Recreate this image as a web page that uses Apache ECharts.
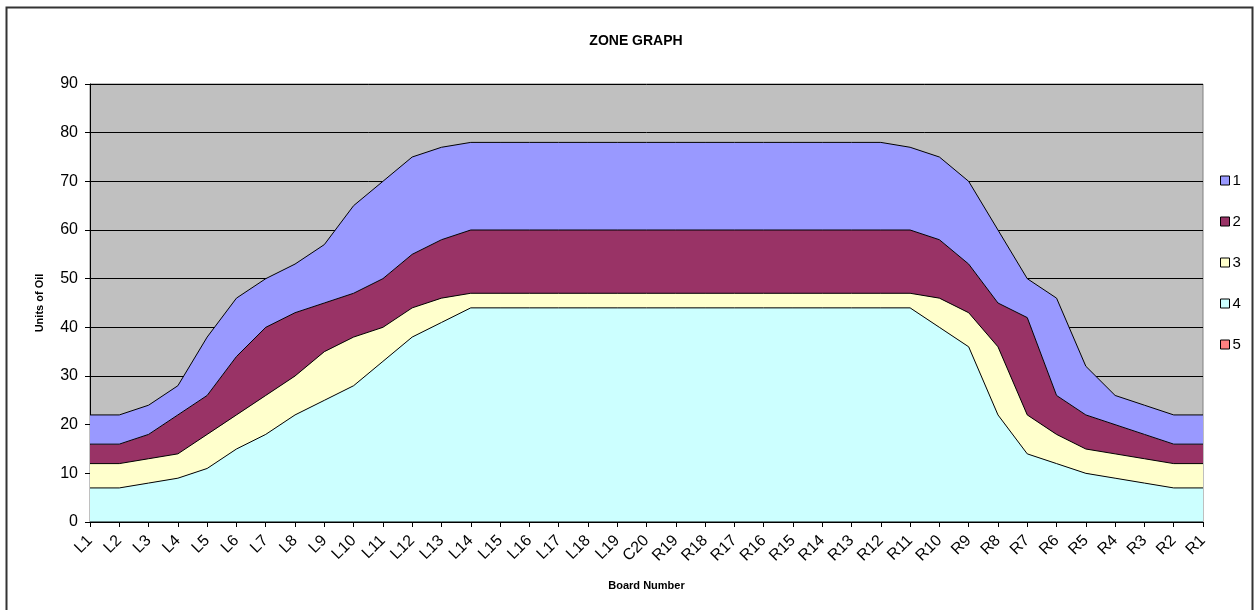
<!DOCTYPE html>
<html>
<head>
<meta charset="utf-8">
<title>Zone Graph</title>
<script src="https://cdn.jsdelivr.net/npm/echarts@6/dist/echarts.min.js"></script>
<style>
html, body { margin: 0; padding: 0; background: #fff; }
#chart { width: 1254px; height: 610px; }
</style>
</head>
<body>
<div id="chart"></div>
<script>
// board positions
var boards = ['L1','L2','L3','L4','L5','L6','L7','L8','L9','L10','L11','L12','L13','L14','L15','L16','L17','L18','L19',
	'C20','R19','R18','R17','R16','R15','R14','R13','R12','R11','R10','R9','R8','R7','R6','R5','R4','R3','R2','R1'];

// zone thicknesses (stacked, bottom to top: 4, 3, 2, 1)
var zone4 = [7,7,8,9,11,15,18,22,25,28,33,38,41,44,
	44,44,44,44,44,44,44,44,44,44,44,44,44,44,
	44,40,36,22,14,12,10,9,8,7,7];
var zone3 = [5,5,5,5,7,7,8,8,10,10,7,6,5,3,
	3,3,3,3,3,3,3,3,3,3,3,3,3,3,
	3,6,7,14,8,6,5,5,5,5,5];
var zone2 = [4,4,5,8,8,12,14,13,10,9,10,11,12,13,
	13,13,13,13,13,13,13,13,13,13,13,13,13,13,
	13,12,10,9,20,8,7,6,5,4,4];
var zone1 = [6,6,6,6,12,12,10,10,12,18,20,20,19,18,
	18,18,18,18,18,18,18,18,18,18,18,18,18,18,
	17,17,17,15,8,20,10,6,6,6,6];
var zone5 = [0,0,0,0,0,0,0,0,0,0,0,0,0,0,0,0,0,0,0,0,0,0,0,0,0,0,0,0,0,0,0,0,0,0,0,0,0,0,0];

var zoneNames = ['1','2','3','4','5'];
var yTicks = { min: 0, max: 90, step: 10 };

function zoneSeries(name, data, color) {
	return {
		name: name,
		type: 'line',
		stack: 'zone',
		data: data,
		symbol: 'none',
		color: color,
		lineStyle: { color: '#000', width: 1 },
		areaStyle: { color: color, opacity: 1 },
		itemStyle: { color: color, borderColor: '#000', borderWidth: 1 },
		animation: false
	};
}

var myChart = echarts.init(document.getElementById('chart'));
var option = {
	backgroundColor: '#fff',
	textStyle: { fontFamily: 'Liberation Sans, Arial, sans-serif' },
	title: {
		text: 'ZONE GRAPH',
		left: 631,
		textAlign: 'center',
		top: 29,
		textStyle: { fontSize: 14, fontWeight: 'bold', color: '#000' }
	},
	legend: {
		data: zoneNames,
		orient: 'vertical',
		left: 1215,
		top: 167,
		itemWidth: 9,
		itemHeight: 9,
		itemGap: 24,
		icon: 'rect',
		itemStyle: { borderColor: '#000', borderWidth: 1 },
		textStyle: { fontSize: 15, color: '#000', padding: [0, 0, 0, -2], lineHeight: 17 }
	},
	grid: {
		left: 90,
		right: 51,
		top: 84,
		bottom: 88,
		show: true,
		backgroundColor: '#C0C0C0',
		borderColor: '#808080',
		borderWidth: 1
	},
	xAxis: {
		type: 'category',
		data: boards,
		boundaryGap: false,
		name: 'Board Number',
		nameLocation: 'middle',
		nameGap: 58,
		nameTextStyle: { fontSize: 11, fontWeight: 'bold', color: '#000' },
		axisLine: { lineStyle: { color: '#000', width: 1 } },
		axisTick: { interval: 0, length: 5, lineStyle: { color: '#000' } },
		axisLabel: { interval: 0, rotate: 45, fontSize: 16, color: '#000', margin: 16 },
		splitLine: { show: false }
	},
	yAxis: {
		type: 'value',
		min: yTicks.min,
		max: yTicks.max,
		interval: yTicks.step,
		name: 'Units of Oil',
		nameLocation: 'middle',
		nameGap: 45,
		nameTextStyle: { fontSize: 11, fontWeight: 'bold', color: '#000' },
		axisLine: { show: true, lineStyle: { color: '#000', width: 1 } },
		axisTick: { show: true, length: 5, lineStyle: { color: '#000' } },
		axisLabel: { fontSize: 16, color: '#000', margin: 12 },
		splitLine: { show: true, lineStyle: { color: '#000', width: 1 } }
	},
	graphic: [{
		type: 'rect',
		shape: { x: 6.5, y: 7.5, width: 1246, height: 620 },
		style: { fill: 'none', stroke: '#333', lineWidth: 2 },
		silent: true
	}],
	series: [
		zoneSeries('5', zone5, '#FF8080'),
		zoneSeries('4', zone4, '#CCFFFF'),
		zoneSeries('3', zone3, '#FFFFCC'),
		zoneSeries('2', zone2, '#993366'),
		zoneSeries('1', zone1, '#9999FF')
	]
};
myChart.setOption(option);
</script>
</body>
</html>
